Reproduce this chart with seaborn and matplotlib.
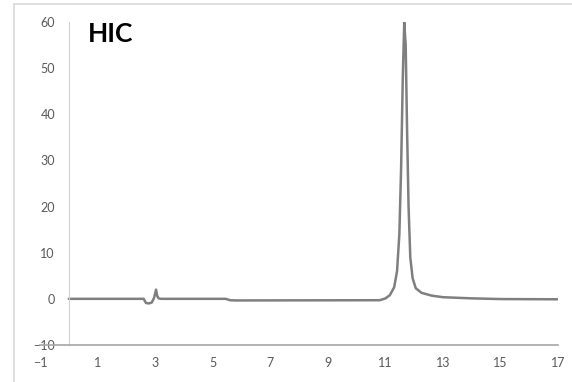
import matplotlib
matplotlib.use('Agg')
import matplotlib.pyplot as plt
import seaborn as sns
import pandas as pd
from matplotlib.lines import Line2D

# retention time (min) and detector signal
time = [0, 2.6, 2.68, 2.78, 2.88, 2.96, 3.03, 3.07, 3.12, 3.2, 5.45, 5.6, 5.8,
        10.8, 11.0, 11.15, 11.3, 11.4, 11.48, 11.54, 11.6, 11.65, 11.7, 11.75,
        11.8, 11.86, 11.94, 12.05, 12.25, 12.6, 13.0, 14.0, 15.0, 17.0]
signal = [0, 0, -0.9, -1.0, -0.8, 0.2, 2.0, 0.6, 0.1, 0, 0, -0.3, -0.35,
          -0.3, 0.1, 0.8, 2.5, 6, 14, 28, 48, 60, 55, 36, 20, 9, 4.5, 2.3, 1.3,
          0.7, 0.35, 0.1, -0.05, -0.1]
x_ticks = [-1, 1, 3, 5, 7, 9, 11, 13, 15, 17]
y_ticks = [-10, 0, 10, 20, 30, 40, 50, 60]

df = pd.DataFrame({'time': time, 'signal': signal})

sns.set_style('white')
plt.rcParams['font.family'] = ['Lato', 'DejaVu Sans']

fig = plt.figure(figsize=(5.72, 3.82), dpi=100)
ax = fig.add_axes([0.070, 0.097, 0.906, 0.845])
sns.lineplot(data=df, x='time', y='signal', ax=ax, color='#7f7f7f', linewidth=1.8)

ax.set_xlim(-1, 17)
ax.set_ylim(-10, 60)
ax.set_xticks(x_ticks)
ax.set_yticks(y_ticks)
ax.set_xlabel('')
ax.set_ylabel('')
ax.spines['left'].set_position(('data', 0))
ax.spines['left'].set_color('#d0d0d0')
ax.spines['bottom'].set_color('#a6a6a6')
ax.spines['bottom'].set_linewidth(1.2)
ax.spines['top'].set_visible(False)
ax.spines['right'].set_visible(False)
ax.tick_params(axis='both', length=0, labelsize=9, labelcolor='#595959')
ax.tick_params(axis='y', pad=10)
ax.tick_params(axis='x', pad=9)

ax.text(0.093, 1.0, 'HIC', transform=ax.transAxes, fontsize=19,
        fontweight='bold', color='black', va='top', ha='left')

# outer frame of the chart area
fig.add_artist(Line2D([14 / 572, 14 / 572], [0, 1 - 4 / 382], transform=fig.transFigure,
                      color='#d9d9d9', linewidth=1.2))
fig.add_artist(Line2D([14 / 572, 1], [1 - 4 / 382, 1 - 4 / 382], transform=fig.transFigure,
                      color='#d9d9d9', linewidth=1.2))

fig.savefig('out.png', dpi=100)
